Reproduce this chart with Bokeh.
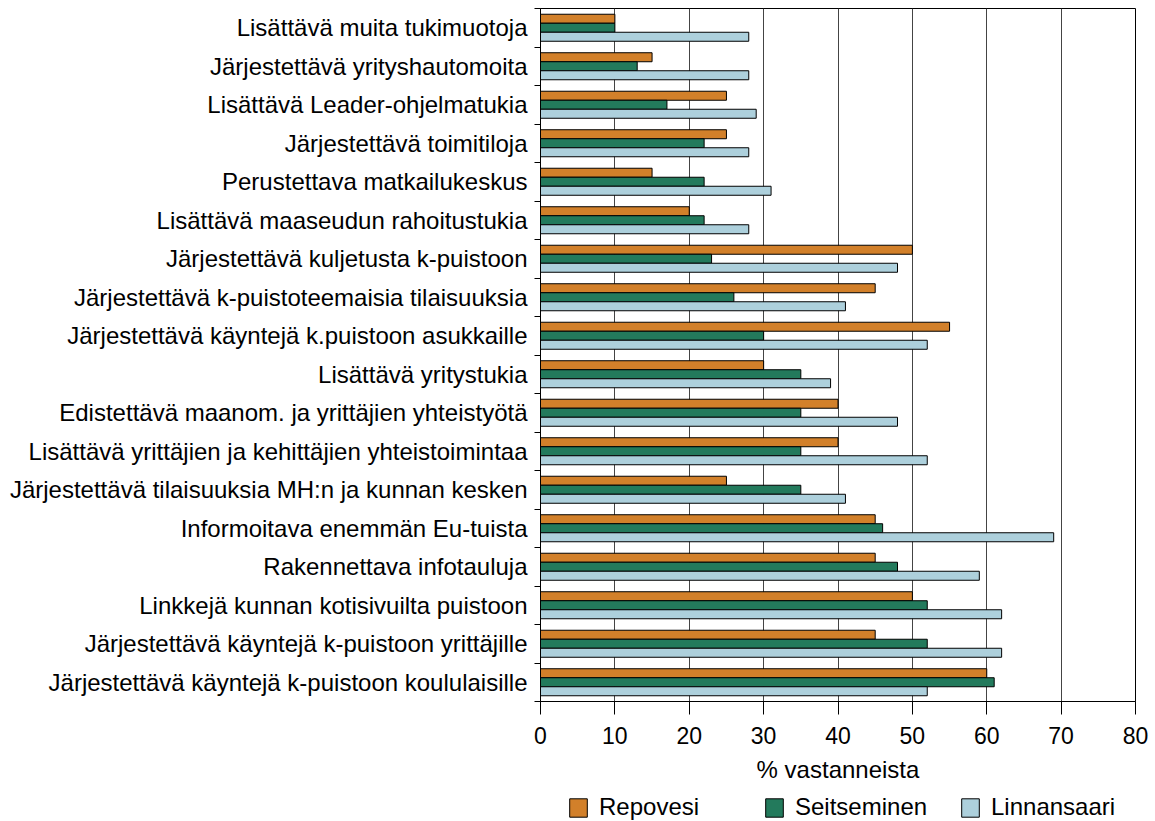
from bokeh.plotting import figure
from bokeh.layouts import column
from bokeh.models import (Range1d, FixedTicker, Legend, LegendItem, ColumnDataSource)
from bokeh.embed import file_html
from bokeh.resources import INLINE

categories = [
    "Lisättävä muita tukimuotoja",
    "Järjestettävä yrityshautomoita",
    "Lisättävä Leader-ohjelmatukia",
    "Järjestettävä toimitiloja",
    "Perustettava matkailukeskus",
    "Lisättävä maaseudun rahoitustukia",
    "Järjestettävä kuljetusta k-puistoon",
    "Järjestettävä k-puistoteemaisia tilaisuuksia",
    "Järjestettävä käyntejä k.puistoon asukkaille",
    "Lisättävä yritystukia",
    "Edistettävä maanom. ja yrittäjien yhteistyötä",
    "Lisättävä yrittäjien ja kehittäjien yhteistoimintaa",
    "Järjestettävä tilaisuuksia MH:n ja kunnan kesken",
    "Informoitava enemmän Eu-tuista",
    "Rakennettava infotauluja",
    "Linkkejä kunnan kotisivuilta puistoon",
    "Järjestettävä käyntejä k-puistoon yrittäjille",
    "Järjestettävä käyntejä k-puistoon koululaisille",
]
repovesi    = [10, 15, 25, 25, 15, 20, 50, 45, 55, 30, 40, 40, 25, 45, 45, 50, 45, 60]
seitseminen = [10, 13, 17, 22, 22, 22, 23, 26, 30, 35, 35, 35, 35, 46, 48, 52, 52, 61]
linnansaari = [28, 28, 29, 28, 31, 28, 48, 41, 52, 39, 48, 52, 41, 69, 59, 62, 62, 52]
series_names = ["Repovesi", "Seitseminen", "Linnansaari"]
series_colors = ["#D2802A", "#237A5C", "#ADD0DC"]
x_ticks = [0, 10, 20, 30, 40, 50, 60, 70, 80]

FONT = "Liberation Sans"
n = len(categories)
centers = [i + 0.5 for i in range(n)]
bar_h = 0.234
offsets = [-bar_h, 0.0, bar_h]

p = figure(frame_width=595, frame_height=693, output_backend="svg", toolbar_location=None,
           x_range=Range1d(0, 80), y_range=Range1d(n, 0),
           min_border_left=540, min_border_right=15, min_border_top=8,
           min_border_bottom=87)

sources = []
renderers = []
for vals, off, col in zip([repovesi, seitseminen, linnansaari], offsets, series_colors):
    src = ColumnDataSource(dict(y=[c + off for c in centers], right=vals))
    sources.append(src)
    r = p.hbar(y="y", left=0, right="right", height=bar_h, source=src,
               fill_color=col, line_color="black", line_width=1)
    renderers.append(r)

p.outline_line_color = "black"
p.outline_line_width = 1
p.background_fill_color = "white"
p.border_fill_color = "white"

# grid
p.ygrid.grid_line_color = None
p.xgrid.grid_line_color = "#444444"
p.xgrid.grid_line_width = 1
p.xgrid.ticker = FixedTicker(ticks=x_ticks)

# x axis
xa = p.xaxis[0]
xa.ticker = FixedTicker(ticks=x_ticks)
xa.axis_line_color = "black"
xa.major_tick_line_color = "black"
xa.major_tick_out = 13
xa.major_tick_in = 0
xa.minor_tick_line_color = None
xa.major_label_text_font = FONT
xa.major_label_text_font_size = "23px"
xa.major_label_text_color = "black"
xa.major_label_standoff = 12
xa.axis_label = "% vastanneista"
xa.axis_label_text_font = FONT
xa.axis_label_text_font_size = "24px"
xa.axis_label_text_font_style = "normal"
xa.axis_label_text_color = "black"
xa.axis_label_standoff = 9

# y axis
ya = p.yaxis[0]
ya.ticker = FixedTicker(ticks=centers, minor_ticks=[float(i) for i in range(n + 1)])
ya.major_label_overrides = {c: lab for c, lab in zip(centers, categories)}
ya.axis_line_color = "black"
ya.major_tick_line_color = None
ya.major_tick_out = 0
ya.major_tick_in = 0
ya.minor_tick_line_color = "black"
ya.minor_tick_out = 6
ya.minor_tick_in = 0
ya.major_label_text_font = FONT
ya.major_label_text_font_size = "24px"
ya.major_label_text_color = "black"
ya.major_label_standoff = 7

# legend strip below the chart, its frame aligned with the chart's frame;
# its glyph renderers share the series data but their y range keeps the bars out of view
p2 = figure(frame_width=595, frame_height=33, output_backend="svg", toolbar_location=None,
            x_range=Range1d(0, 80), y_range=Range1d(100, 101),
            x_axis_location=None, y_axis_location=None,
            min_border_left=540, min_border_right=15, min_border_top=0,
            min_border_bottom=0)
p2.outline_line_color = None
p2.grid.visible = False
p2.background_fill_color = "white"
p2.border_fill_color = "white"
leg_renderers = []
for src, col in zip(sources, series_colors):
    leg_renderers.append(p2.hbar(y="y", left=0, right="right", height=bar_h, source=src,
                                 fill_color=col, line_color="black", line_width=1))

legend = Legend(items=[LegendItem(label=nm, renderers=[r]) for nm, r in zip(series_names, leg_renderers)],
                orientation="horizontal", location=(27, 0),
                glyph_width=22, glyph_height=23, label_standoff=10,
                label_width=144, spacing=20, padding=0, margin=0,
                border_line_color=None, background_fill_alpha=0,
                label_text_font=FONT, label_text_font_size="24px",
                label_text_color="black")
p2.add_layout(legend, "center")

layout = column(p, p2, spacing=0)
open("out.html", "w").write(file_html(layout, INLINE))
